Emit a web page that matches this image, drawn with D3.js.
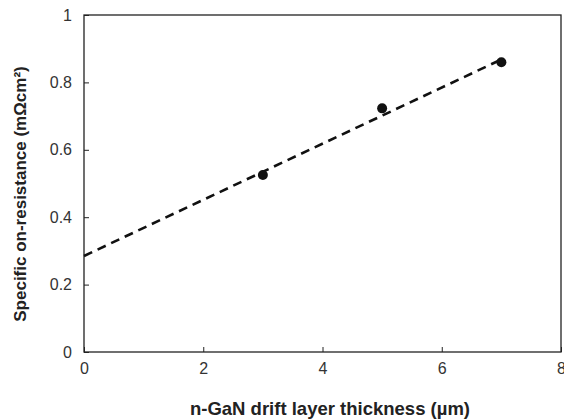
<!DOCTYPE html>
<html>
<head>
<meta charset="utf-8">
<script src="https://cdn.jsdelivr.net/npm/d3@7"></script>
<style>
  body { margin: 0; background: #fff; }
  text { font-family: "Liberation Sans", Arial, sans-serif; }
</style>
</head>
<body>
<svg id="chart"></svg>
<script>
// measured points
const thickness = [3, 5, 7];
const resistance = [0.525, 0.723, 0.86];

// linear fit drawn as dashed line
const fitX = [0, 7];
const fitY = [0.285, 0.868];

const xTicks = [0, 2, 4, 6, 8];
const yTicks = [0, 0.2, 0.4, 0.6, 0.8, 1];

const width = 564, height = 419;
const margin = { top: 15, right: 3, bottom: 67, left: 84 };
const innerWidth = width - margin.left - margin.right;
const innerHeight = height - margin.top - margin.bottom;

const svg = d3.select("#chart")
  .attr("width", width)
  .attr("height", height);

const g = svg.append("g")
  .attr("transform", `translate(${margin.left},${margin.top})`);

const x = d3.scaleLinear().domain([0, 8]).range([0, innerWidth]);
const y = d3.scaleLinear().domain([0, 1]).range([innerHeight, 0]);

// frame
g.append("rect")
  .attr("width", innerWidth)
  .attr("height", innerHeight)
  .attr("fill", "none")
  .attr("stroke", "#222")
  .attr("stroke-width", 1.3);

// axes with inward ticks
const xAxis = g.append("g")
  .attr("transform", `translate(0,${innerHeight})`)
  .call(d3.axisBottom(x).tickValues(xTicks).tickSize(-5).tickPadding(11).tickFormat(d3.format("")));
const yAxis = g.append("g")
  .call(d3.axisLeft(y).tickValues(yTicks).tickSize(-5).tickPadding(12).tickFormat(d => d));

[xAxis, yAxis].forEach(a => {
  a.select(".domain").remove();
  a.selectAll(".tick line").attr("stroke", "#222");
  a.selectAll(".tick text")
    .attr("fill", "#333")
    .style("font-size", "16px");
});

// fit line
const fitData = fitX.map((v, i) => ({ x: v, y: fitY[i] }));
g.append("path")
  .datum(fitData)
  .attr("fill", "none")
  .attr("stroke", "#111")
  .attr("stroke-width", 2.6)
  .attr("stroke-dasharray", "9,6")
  .attr("d", d3.line().x(d => x(d.x)).y(d => y(d.y)));

// points
g.selectAll("circle")
  .data(thickness.map((v, i) => ({ x: v, y: resistance[i] })))
  .enter()
  .append("circle")
  .attr("cx", d => x(d.x))
  .attr("cy", d => y(d.y))
  .attr("r", 5)
  .attr("fill", "#111");

// axis titles
svg.append("text")
  .attr("text-anchor", "middle")
  .attr("x", 330)
  .attr("y", 415)
  .attr("fill", "#222")
  .style("font-size", "18.5px")
  .style("font-weight", "bold")
  .text("n-GaN drift layer thickness (µm)");

svg.append("text")
  .attr("text-anchor", "middle")
  .attr("transform", "translate(26,194) rotate(-90)")
  .attr("fill", "#222")
  .style("font-size", "17px")
  .style("font-weight", "bold")
  .text("Specific on-resistance (mΩcm²)");
</script>
</body>
</html>
